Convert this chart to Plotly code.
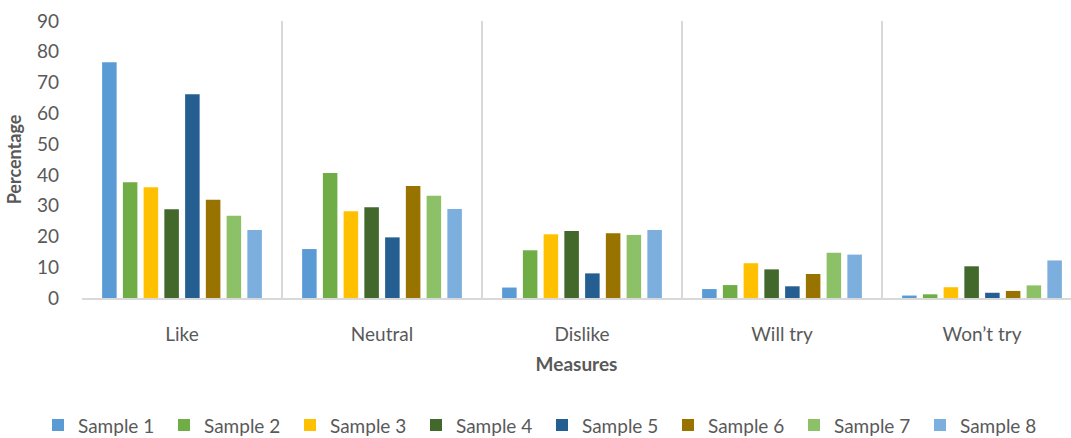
import plotly.graph_objects as go

measures = ["Like", "Neutral", "Dislike", "Will try", "Won’t try"]
samples = ["Sample 1", "Sample 2", "Sample 3", "Sample 4",
           "Sample 5", "Sample 6", "Sample 7", "Sample 8"]

sample_1 = [76.6, 15.9, 3.4, 2.9, 0.8]
sample_2 = [37.6, 40.6, 15.5, 4.2, 1.2]
sample_3 = [36.0, 28.2, 20.7, 11.3, 3.5]
sample_4 = [28.8, 29.5, 21.8, 9.3, 10.3]
sample_5 = [66.2, 19.7, 8.0, 3.8, 1.7]
sample_6 = [31.9, 36.4, 21.0, 7.8, 2.3]
sample_7 = [26.7, 33.2, 20.5, 14.7, 4.1]
sample_8 = [22.1, 28.9, 22.1, 14.1, 12.2]

series = [sample_1, sample_2, sample_3, sample_4,
          sample_5, sample_6, sample_7, sample_8]
colors = ["#5B9BD5", "#70AD47", "#FFC000", "#43682B",
          "#255E91", "#997300", "#8CC168", "#7CAFDD"]

FONT = "Lato"
GREY = "#595959"

fig = go.Figure()
for name, vals, col in zip(samples, series, colors):
    fig.add_trace(go.Bar(name=name, x=measures, y=vals,
                         marker=dict(color=col, line=dict(width=0))))

fig.update_layout(
    width=1071, height=438,
    margin=dict(l=82, r=0, t=21, b=140, autoexpand=False),
    paper_bgcolor="white", plot_bgcolor="white",
    barmode="group", bargap=0.17, bargroupgap=0.3,
    font=dict(family=FONT, color=GREY, size=18),
    showlegend=True,
    legend=dict(orientation="h", xref="paper", yref="paper",
                x=-0.0445, xanchor="left", y=-0.528, yanchor="bottom",
                entrywidth=81, entrywidthmode="pixels",
                font=dict(size=19, color=GREY),
                tracegroupgap=0),
)

fig.update_xaxes(
    type="category", range=[-0.5, 4.445],
    tickson="boundaries", showgrid=True, gridcolor="#D9D9D9", gridwidth=1.5,
    showline=True, linecolor="#D9D9D9", linewidth=2,
    ticks="", ticklabelstandoff=18,
    tickfont=dict(size=19, color=GREY),
    title=dict(text="<b>Measures</b>", font=dict(size=19, color=GREY), standoff=14),
)
fig.update_yaxes(
    range=[0, 90], dtick=10, showgrid=False, zeroline=False, showline=False,
    ticks="", ticklabelstandoff=22,
    tickfont=dict(size=19, color=GREY),
    title=dict(text="<b>Percentage</b>", font=dict(size=18, color=GREY), standoff=10),
)

fig.write_html("out.html")
